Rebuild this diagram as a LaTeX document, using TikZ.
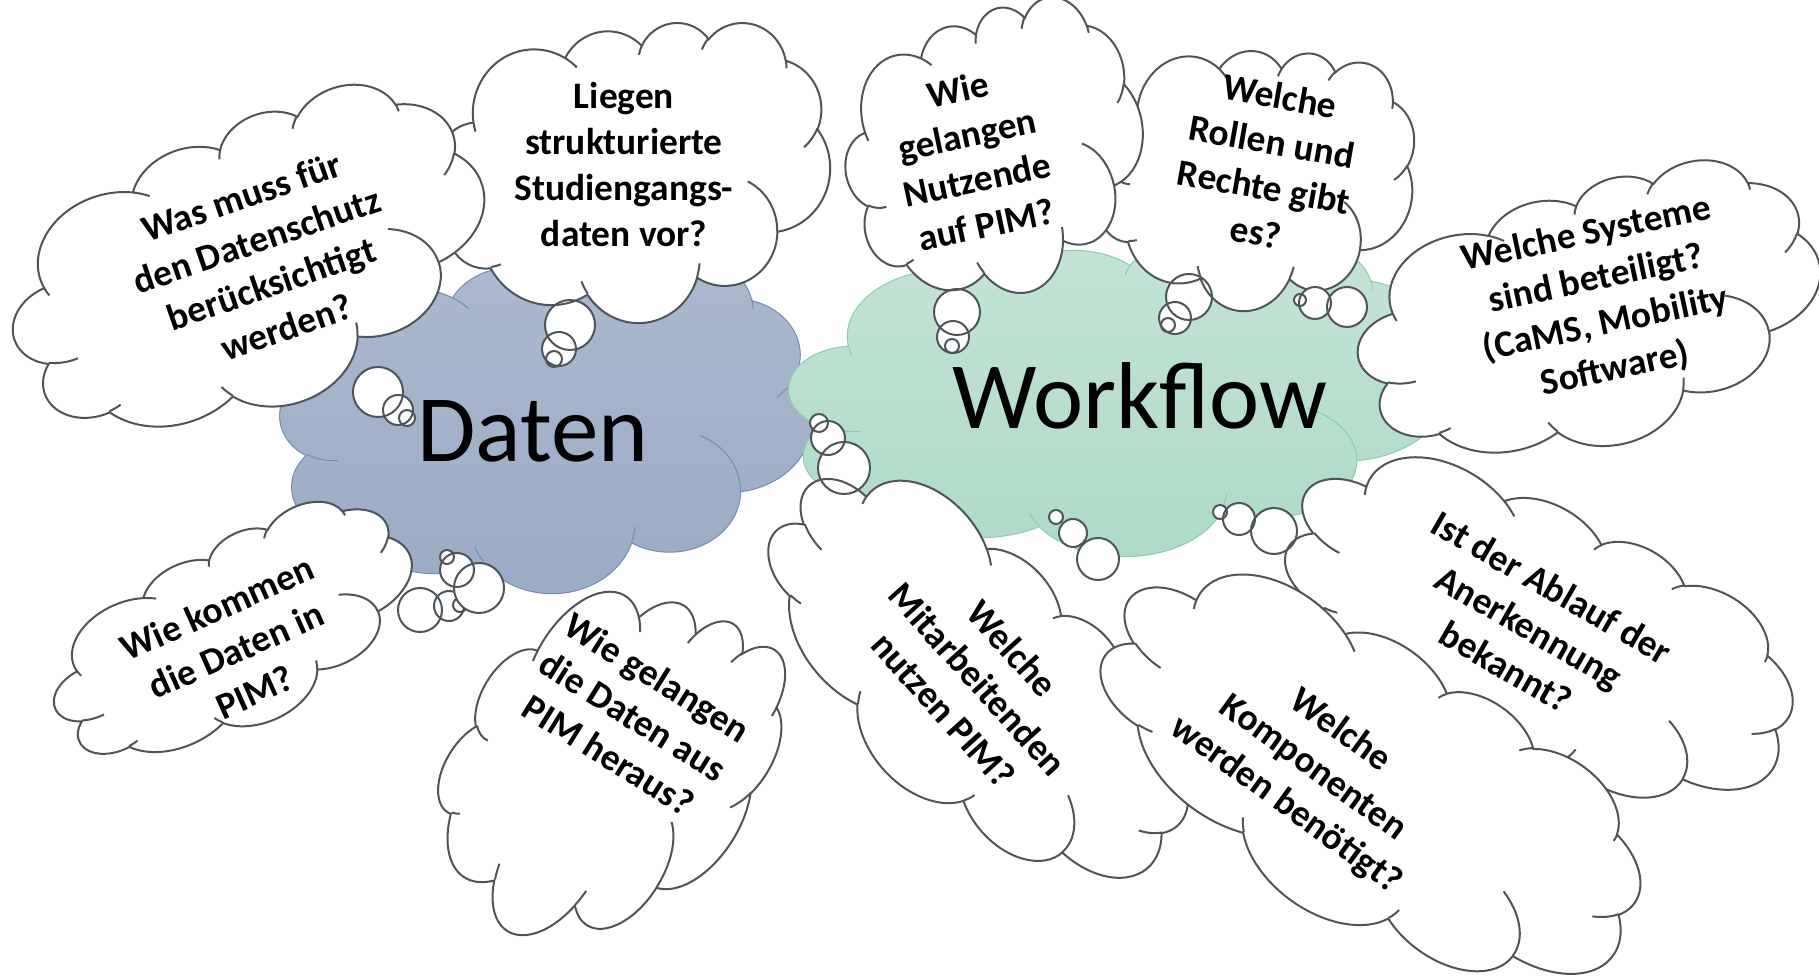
\documentclass[tikz,border=0pt]{standalone}
\usepackage{fontspec}
\setmainfont{Carlito}
\usepackage{tikz}
\definecolor{cloudline}{RGB}{77,84,90}
\definecolor{datentop}{RGB}{172,185,206}
\definecolor{datenbot}{RGB}{154,171,197}
\definecolor{datenline}{RGB}{112,140,184}
\definecolor{flowtop}{RGB}{196,228,214}
\definecolor{flowbot}{RGB}{174,217,199}
\definecolor{flowline}{RGB}{140,204,176}
\tikzstyle{cloudedge}=[draw=cloudline,
line width=1pt,
]
\tikzstyle{question}=[align=center,
inner sep=0pt,
font=\bfseries\fontsize{18.7}{23}\selectfont,
]
\tikzstyle{topic}=[inner sep=0pt,
font=\fontsize{47.5}{56}\selectfont,
]
% arc of an ellipse, angles given as seen (not parametric)
\newcommand\cloudarc[4]{arc[x radius=#1, y radius=#2,
  start angle={atan2(#1*sin(#3),#2*cos(#3))},
  delta angle={mod(atan2(#1*sin(#3+#4),#2*cos(#3+#4))-atan2(#1*sin(#3),#2*cos(#3))+720,360)}]}
\newcommand\cloudshape{(9.028,33.264)
  \cloudarc{15.632}{21.273}{-190.487}{123.781}
  \cloudarc{12.345}{16.822}{-144.102}{89.945}
  \cloudarc{10.104}{13.762}{-145.808}{99.723}
  \cloudarc{11.243}{15.266}{-130.986}{117.242}
  \cloudarc{12.345}{16.836}{-78.709}{109.027}
  \cloudarc{15.683}{21.343}{-46.267}{130.269}
  \cloudarc{13.391}{18.211}{0.625}{114.033}
  \cloudarc{15.630}{21.331}{22.452}{115.173}
  \cloudarc{17.870}{24.405}{66.243}{75.711}
  \cloudarc{10.093}{13.699}{-274.942}{146.736}
  \cloudarc{10.058}{13.762}{-246.829}{152.519} -- cycle}
\newcommand\cloudinner{(10.863,60.595) \cloudarc{10.058}{13.762}{86.742}{26.430}
  (16.037,80.785) \cloudarc{10.093}{13.699}{73.610}{11.447}
  (38.144,90.486) \cloudarc{15.630}{21.331}{137.624}{14.081}
  (66.729,80.442) \cloudarc{15.630}{21.331}{6.453}{15.998}
  (79.002,53.134) \cloudarc{13.391}{18.211}{-70.292}{70.917}
  (96.755,35.542) \cloudarc{12.345}{16.836}{30.318}{27.752}
  (88.713,12.560) \cloudarc{11.243}{15.266}{-13.744}{14.859}
  (67.310,9.148) \cloudarc{11.243}{15.266}{-149.181}{18.195}
  (51.252,10.926) \cloudarc{10.104}{13.762}{-163.494}{17.686}
  (32.407,12.019) \cloudarc{15.632}{21.273}{-66.707}{12.319}
  (9.553,36.549) \cloudarc{15.632}{21.273}{157.654}{11.858}}
% #1 centre, #2 angle, #3 width, #4 height, #5 bubbles x/y/r
\newcommand\callout[5]{%
  \begin{scope}[shift={#1}, rotate=#2, xscale=#3/100, yscale=#4/100, shift={(-50,-50)}]
    \fill[white] \cloudshape;
  \end{scope}
  \foreach \bx/\by/\br in {#5} \fill[white] (\bx,\by) circle[radius=\br];
  \begin{scope}[shift={#1}, rotate=#2, xscale=#3/100, yscale=#4/100, shift={(-50,-50)}]
    \draw[cloudedge] \cloudshape \cloudinner;
  \end{scope}
  \foreach \bx/\by/\br in {#5} \draw[cloudedge] (\bx,\by) circle[radius=\br];
}

\begin{document}
\begin{tikzpicture}[x=0.5pt, y=-0.5pt]
        \useasboundingbox (0,0) rectangle (1819,977);

        % the two topics
        \begin{scope}[shift={(546,425)}, xscale=5.32, yscale=3.35, shift={(-50,-50)}]
            \path[top color=datentop, bottom color=datenbot, draw=datenline, line width=0.5pt] \cloudshape;
            \draw[datenline, line width=0.5pt] \cloudinner;
        \end{scope}
        \begin{scope}[shift={(1117,398)}, xscale=6.56, yscale=3.15, shift={(-50,-50)}]
            \path[top color=flowtop, bottom color=flowbot, draw=flowline, line width=0.5pt] \cloudshape;
            \draw[flowline, line width=0.5pt] \cloudinner;
        \end{scope}
        \node[topic, anchor=base] (daten) at (533,462) {Daten};
        \node[topic, anchor=base] (workflow) at (1140,429) {Workflow};

        % questions
        \callout{(634,172)}{0}{392}{300}{570/325/25, 559/349/17, 554/359/8}
        \node[question] (studiengang) at (624,165) {Liegen\\strukturierte\\Studiengangs-\\daten vor?};
        \callout{(250,267)}{19}{492}{286}{378/392/25, 398/410/15, 407/418/8}
        \node[question, rotate=19] (datenschutz) at (264,262) {Was muss für\\den Datenschutz\\berücksichtigt\\werden?};
        \callout{(1256,178)}{-10}{314}{266}{1189/297/23, 1175/318/16, 1168/325/7}
        \node[question, rotate=-10] (rollen) at (1268,164) {Welche\\Rollen und\\Rechte gibt\\es?};
        \callout{(995,153)}{12}{300}{284}{957/312/23, 953/337/16, 952/346/7}
        \node[question, rotate=12] (zugang) at (972,157) {Wie\\gelangen\\Nutzende\\auf PIM?};
        \callout{(1590,316)}{12}{470}{262}{1347/307/20, 1315/303/16, 1300/300/6}
        \node[question, rotate=12] (systeme) at (1601,302) {Welche Systeme\\sind beteiligt?\\(CaMS, Mobility\\Software)};
        \callout{(234,635)}{24}{386}{186}{420/610/22, 449/606/15, 460/605/7}
        \node[question, rotate=24] (import) at (236,650) {Wie kommen\\die Daten in\\PIM?};
        \callout{(606,767)}{-32}{292}{380}{479/588/25, 457/570/17, 447/557/7}
        \node[question, rotate=-32] (export) at (633,716) {Wie gelangen\\die Daten aus\\PIM heraus?};
        \callout{(975,680)}{-48}{510}{254}{844/468/26, 828/438/17, 819/423/9}
        \node[question, rotate=-48] (mitarbeitende) at (978,679) {Welche\\Mitarbeitenden\\nutzen PIM?};
        \callout{(1537,635)}{-30}{542}{262}{1274/531/23, 1239/519/16, 1220/512/7}
        \node[question, rotate=-30] (anerkennung) at (1529,627) {Ist der Ablauf der\\Anerkennung\\bekannt?};
        \callout{(1368,782)}{-36}{600}{280}{1098/559/21, 1073/533/14, 1056/517/7}
        \node[question, rotate=-36] (komponenten) at (1313,768) {Welche\\Komponenten\\werden benötigt?};
    \end{tikzpicture}
\end{document}
